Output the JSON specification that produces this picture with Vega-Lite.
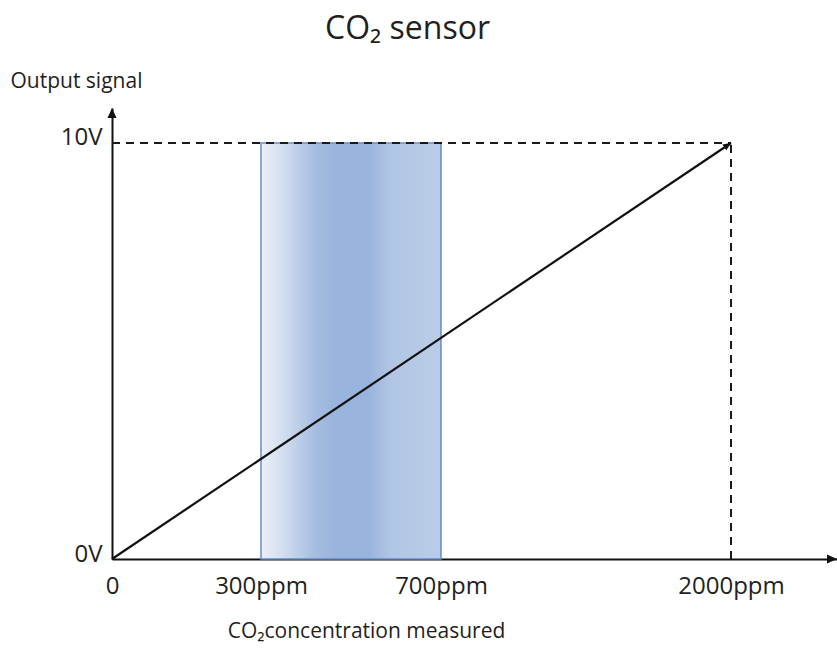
{
  "$schema": "https://vega.github.io/schema/vega-lite/v6.json",
  "width": 725,
  "height": 451,
  "autosize": "none",
  "padding": {"left": 112, "top": 108, "right": 0, "bottom": 109},
  "background": "white",
  "config": {"view": {"stroke": null}, "font": "Open Sans"},
  "title": {
    "text": "CO₂ sensor",
    "font": "Open Sans",
    "fontSize": 32,
    "fontWeight": "normal",
    "color": "#231f20",
    "anchor": "middle",
    "frame": "group",
    "dx": -67,
    "baseline": "alphabetic",
    "offset": -1
  },
  "encoding": {
    "x": {
      "field": "ppm",
      "type": "quantitative",
      "scale": {"domain": [0, 300, 700, 2000, 2475], "range": [0, 149, 329, 619, 725], "nice": false, "zero": false},
      "axis": {
        "values": [0, 300, 700, 2000],
        "labelExpr": "datum.value == 0 ? '0' : datum.value + 'ppm'",
        "ticks": false,
        "tickSize": 0,
        "grid": false,
        "domainColor": "#111111",
        "domainWidth": 2,
        "labelFont": "Open Sans",
        "labelFontSize": 24,
        "labelColor": "#231f20",
        "labelBaseline": "alphabetic",
        "labelPadding": 34,
        "labelFlush": false,
        "labelOverlap": false,
        "labelBound": false,
        "title": "CO₂concentration measured",
        "titleFont": "Open Sans",
        "titleFontSize": 21,
        "titleFontWeight": "normal",
        "titleColor": "#231f20",
        "titleX": 254,
        "titleY": 78,
        "titleBaseline": "alphabetic",
        "titleAlign": "center"
      }
    },
    "y": {
      "field": "volt",
      "type": "quantitative",
      "scale": {"domain": [0, 10.841], "nice": false},
      "axis": {
        "values": [0, 10],
        "labelExpr": "datum.value + 'V'",
        "ticks": false,
        "tickSize": 0,
        "grid": false,
        "domainColor": "#111111",
        "domainWidth": 2,
        "labelFont": "Open Sans",
        "labelFontSize": 24,
        "labelColor": "#231f20",
        "labelPadding": 10,
        "labelOffset": -5,
        "labelFlush": false,
        "labelOverlap": false,
        "labelBound": false,
        "title": "Output signal",
        "titleFont": "Open Sans",
        "titleFontSize": 21,
        "titleFontWeight": "normal",
        "titleColor": "#231f20",
        "titleAngle": 0,
        "titleX": -102,
        "titleY": -21,
        "titleAlign": "left",
        "titleBaseline": "alphabetic"
      }
    }
  },
  "layer": [
    {
      "data": {"values": [{"ppm": 300, "ppm2": 700, "volt": 0, "volt2": 10}]},
      "mark": {
        "type": "rect",
        "fill": {
          "gradient": "linear",
          "x1": 0, "x2": 1, "y1": 0, "y2": 0,
          "stops": [
            {"offset": 0, "color": "#ebf0f8"},
            {"offset": 0.12, "color": "#d3deef"},
            {"offset": 0.3, "color": "#a6bde1"},
            {"offset": 0.4, "color": "#9ab5dd"},
            {"offset": 0.6, "color": "#99b4dc"},
            {"offset": 0.72, "color": "#b1c6e5"},
            {"offset": 1, "color": "#bacde7"}
          ]
        },
        "stroke": "#6a8cc6",
        "strokeWidth": 1.5
      },
      "encoding": {
        "x2": {"field": "ppm2"},
        "y2": {"field": "volt2"}
      }
    },
    {
      "data": {"values": [
        {"ppm": 0, "ppm2": 2000, "volt": 10, "volt2": 10},
        {"ppm": 2000, "ppm2": 2000, "volt": 0, "volt2": 10}
      ]},
      "mark": {"type": "rule", "color": "#1a1a1a", "strokeWidth": 2, "strokeDash": [8, 6]},
      "encoding": {
        "x2": {"field": "ppm2"},
        "y2": {"field": "volt2"}
      }
    },
    {
      "data": {"values": [{"ppm": 0, "volt": 0}, {"ppm": 2000, "volt": 10}]},
      "mark": {"type": "line", "color": "#111111", "strokeWidth": 2.2},
      "encoding": {}
    },
    {
      "data": {"values": [
        {"ppm": 0, "volt": 10.841, "dir": "up"},
        {"ppm": 2475, "volt": 0, "dir": "right"},
        {"ppm": 2000, "volt": 10, "dir": "line"}
      ]},
      "mark": {"type": "point", "filled": true, "size": 100, "opacity": 1, "color": "#111111", "strokeWidth": 0},
      "encoding": {
        "shape": {
          "field": "dir",
          "type": "nominal",
          "scale": {
            "domain": ["up", "right", "line"],
            "range": ["M0,0L0.9,2L-0.9,2Z", "M0,0L-2,-0.9L-2,0.9Z", "M0,0L-0.937,1.474L-1.719,0.312Z"]
          },
          "legend": null
        }
      }
    }
  ]
}
